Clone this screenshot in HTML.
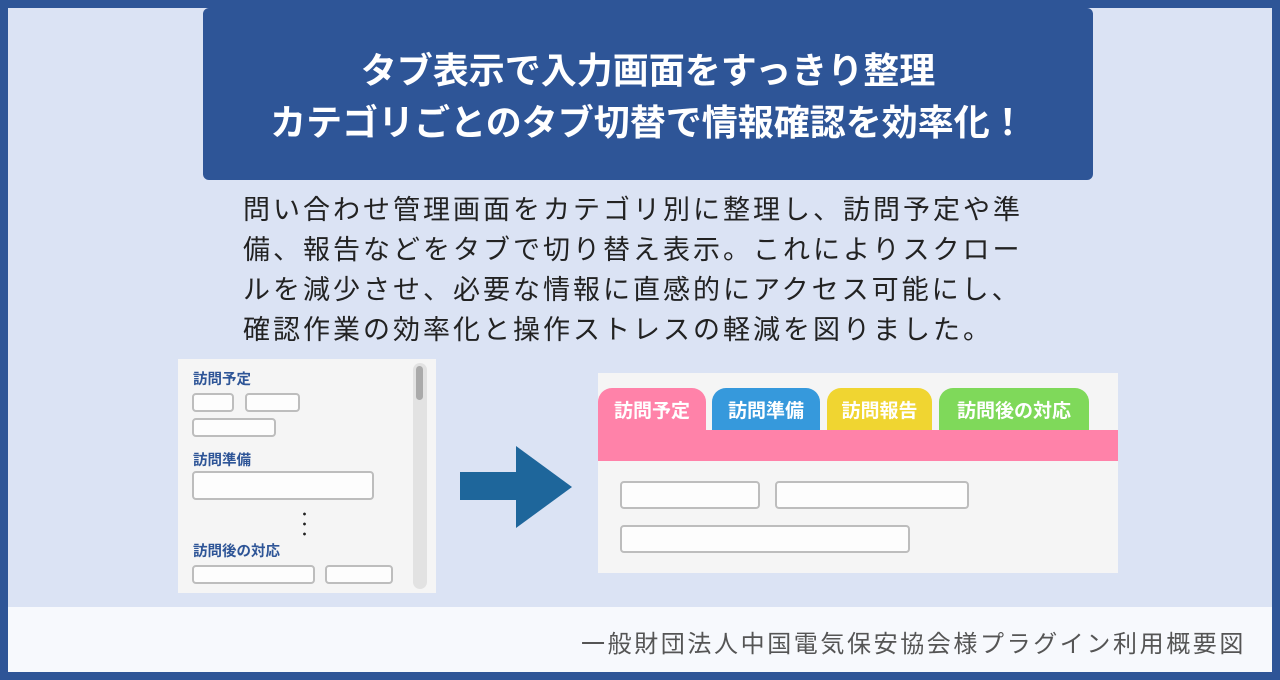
<!DOCTYPE html>
<html><head><meta charset="utf-8"><style>
*{margin:0;padding:0;box-sizing:border-box}
body{width:1280px;height:680px;background:#2e5597;position:relative;overflow:hidden;font-family:"Liberation Sans","Noto Sans CJK JP",sans-serif}
.abs{position:absolute}
#bg{left:8px;top:8px;width:1264px;height:664px;background:#dbe3f4}
#foot{left:8px;top:607px;width:1264px;height:65px;background:#f7f9fd}
#foottxt{right:34px;top:624px;font-size:24px;letter-spacing:2.6px;color:#555;white-space:nowrap}
#hdr{left:203px;top:8px;width:890px;height:172px;background:#2e5597;border-radius:6px;color:#fff;font-weight:bold;font-size:36px;text-align:center;line-height:52px;padding-top:37px}
#body{left:243px;top:190px;font-size:27px;letter-spacing:3px;line-height:40px;color:#222;white-space:nowrap}
#lp{left:178px;top:359px;width:258px;height:234px;background:#f5f5f5}
.lbl{position:absolute;font-size:14.5px;font-weight:bold;color:#2e5597}
.in{position:absolute;background:#fdfdfd;border:2px solid #bdbdbd;border-radius:4px}
#rp{left:598px;top:373px;width:520px;height:200px;background:#f5f5f5}
.tab{position:absolute;top:15px;height:45px;border-radius:14px 14px 0 0;color:#fff;font-weight:bold;font-size:19px;text-align:center;line-height:47px}
</style></head><body>
<div id="bg" class="abs"></div>
<div id="foot" class="abs"></div>
<div id="foottxt" class="abs">一般財団法人中国電気保安協会様プラグイン利用概要図</div>
<div id="hdr" class="abs">タブ表示で入力画面をすっきり整理<br>カテゴリごとのタブ切替で情報確認を効率化！</div>
<div id="body" class="abs">問い合わせ管理画面をカテゴリ別に整理し、訪問予定や準<br>備、報告などをタブで切り替え表示。これによりスクロー<br>ルを減少させ、必要な情報に直感的にアクセス可能にし、<br>確認作業の効率化と操作ストレスの軽減を図りました。</div>
<div id="lp" class="abs">
 <div class="lbl" style="left:15px;top:9px">訪問予定</div>
 <div class="in" style="left:14px;top:34px;width:42px;height:19px"></div>
 <div class="in" style="left:67px;top:34px;width:55px;height:19px"></div>
 <div class="in" style="left:14px;top:59px;width:84px;height:19px"></div>
 <div class="lbl" style="left:15px;top:90px">訪問準備</div>
 <div class="in" style="left:14px;top:112px;width:182px;height:29px"></div>
 <div class="abs" style="left:125px;top:150px;width:3px;height:30px;background:radial-gradient(circle,#222 1.2px,transparent 1.6px) 0 0/3px 10px repeat-y"></div>
 <div class="lbl" style="left:15px;top:181px">訪問後の対応</div>
 <div class="in" style="left:14px;top:206px;width:123px;height:19px"></div>
 <div class="in" style="left:147px;top:206px;width:68px;height:19px"></div>
 <div class="abs" style="left:235px;top:4px;width:14px;height:226px;background:#e2e2e2;border-radius:7px"></div>
 <div class="abs" style="left:238px;top:7px;width:7px;height:34px;background:#aaa;border-radius:4px"></div>
</div>
<svg class="abs" style="left:460px;top:446px" width="112" height="82"><rect x="0" y="26" width="57" height="28" fill="#1e669b"/><polygon points="56,0 112,41 56,82" fill="#1e669b"/></svg>
<div id="rp" class="abs">
 <div class="tab" style="left:0;width:108px;background:#ff82a9">訪問予定</div>
 <div class="tab" style="left:114px;width:108px;background:#3699dc">訪問準備</div>
 <div class="tab" style="left:229px;width:105px;background:#f0d531">訪問報告</div>
 <div class="tab" style="left:341px;width:150px;background:#7fd95a">訪問後の対応</div>
 <div class="abs" style="left:0;top:57px;width:520px;height:31px;background:#ff82a9"></div>
 <div class="in" style="left:22px;top:108px;width:140px;height:28px"></div>
 <div class="in" style="left:177px;top:108px;width:194px;height:28px"></div>
 <div class="in" style="left:22px;top:152px;width:290px;height:28px"></div>
</div>
</body></html>
